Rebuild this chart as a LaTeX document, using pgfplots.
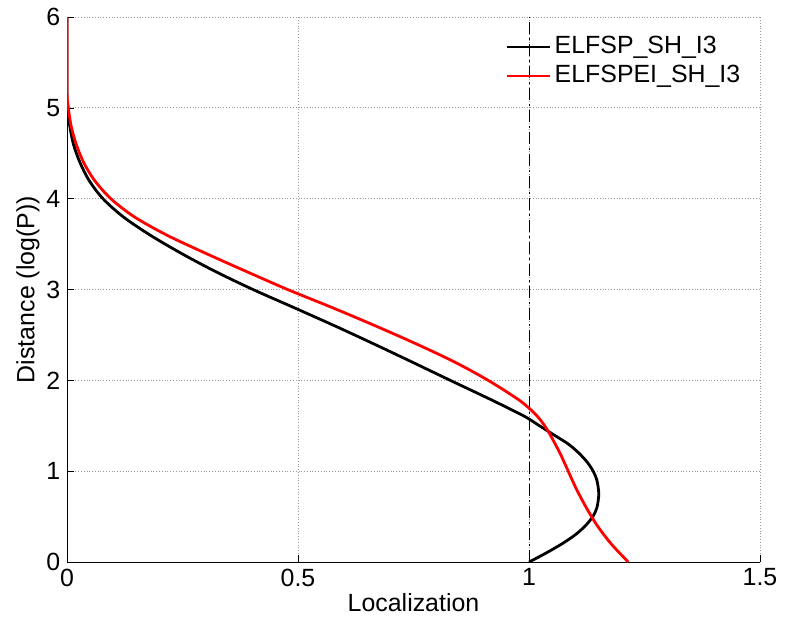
\documentclass[border=0pt]{standalone}
\usepackage{pgfplots}
\pgfplotsset{compat=1.18}
\usepackage{fontspec}
\setmainfont{Liberation Sans}

\begin{document}
\begin{tikzpicture}
\fontsize{12.5}{15}\selectfont
\begin{axis}[
  at={(0,0)}, anchor=south west,
  scale only axis,
  width=346.5bp, height=272.5bp,
  xmin=0, xmax=1.5, ymin=0, ymax=6,
  xtick={0,0.5,1,1.5},
  xticklabels={0,0.5,1,1.5},
  ytick={0,1,2,3,4,5,6},
  axis lines=left,
  axis line style={-, black, line width=0.5pt},
  tick align=inside,
  major tick length=3.5bp,
  tick style={black, line width=0.4pt},
  grid=major,
  major grid style={densely dotted, gray!80, line width=0.5pt},
  /pgf/number format/assume math mode=true,
  ticklabel style={font=\fontsize{12.5}{15}\selectfont},
  xticklabel style={yshift=1bp},
  yticklabel style={xshift=1bp},
  xlabel={Localization},
  ylabel={Distance (log(P))},
  label style={font=\fontsize{12.5}{15}\selectfont},
  xlabel style={yshift=5bp},
  ylabel style={yshift=-5bp},
  legend style={at={(0.985,0.98)}, anchor=north east, draw=none, fill=none,
    font=\fontsize{12.5}{15}\selectfont, row sep=0bp,
    nodes={inner xsep=1.5bp}},
  legend cell align=left,
  legend image code/.code={\draw[#1] (0cm,0cm) -- (21.5bp,0cm);},
]
% reference line at unit localization
\addplot[black, dash pattern=on 6bp off 2bp on 1bp off 2bp, line width=0.4pt, forget plot]
  coordinates {(1,0) (1,6)};

\addplot[black, line width=1.4pt, smooth] coordinates {
  (1.000,0.0) (1.037,0.1) (1.071,0.2) (1.100,0.3) (1.122,0.4) (1.138,0.5)
  (1.147,0.6) (1.151,0.75) (1.147,0.9) (1.139,1.0) (1.126,1.1) (1.108,1.2)
  (1.085,1.3) (1.054,1.4) (1.023,1.5) (0.992,1.6) (0.953,1.7) (0.913,1.8)
  (0.830,2.0) (0.748,2.2) (0.665,2.4) (0.580,2.6) (0.492,2.8) (0.403,3.0)
  (0.321,3.2) (0.247,3.4) (0.180,3.6) (0.122,3.8) (0.078,4.0) (0.048,4.2)
  (0.028,4.4) (0.014,4.6) (0.006,4.8) (0.001,5.0) (0,5.2) (0,6)
};
\addlegendentry{ELFSP\_SH\_I3}

\addplot[red, line width=1.4pt, smooth] coordinates {
  (1.215,0.0) (1.178,0.2) (1.148,0.4) (1.124,0.6) (1.103,0.8) (1.085,1.0)
  (1.067,1.2) (1.046,1.4) (1.034,1.5) (1.019,1.6) (0.999,1.7) (0.974,1.8)
  (0.912,2.0) (0.840,2.2) (0.757,2.4) (0.668,2.6) (0.575,2.8) (0.478,3.0)
  (0.388,3.2) (0.300,3.4) (0.216,3.6) (0.146,3.8) (0.095,4.0) (0.060,4.2)
  (0.036,4.4) (0.020,4.6) (0.009,4.8) (0.003,5.0) (0,5.2) (0,6)
};
\addlegendentry{ELFSPEI\_SH\_I3}
\end{axis}
\path[use as bounding box] (-33.5bp,-29bp) rectangle (361.5bp,280bp);
\end{tikzpicture}
\end{document}
